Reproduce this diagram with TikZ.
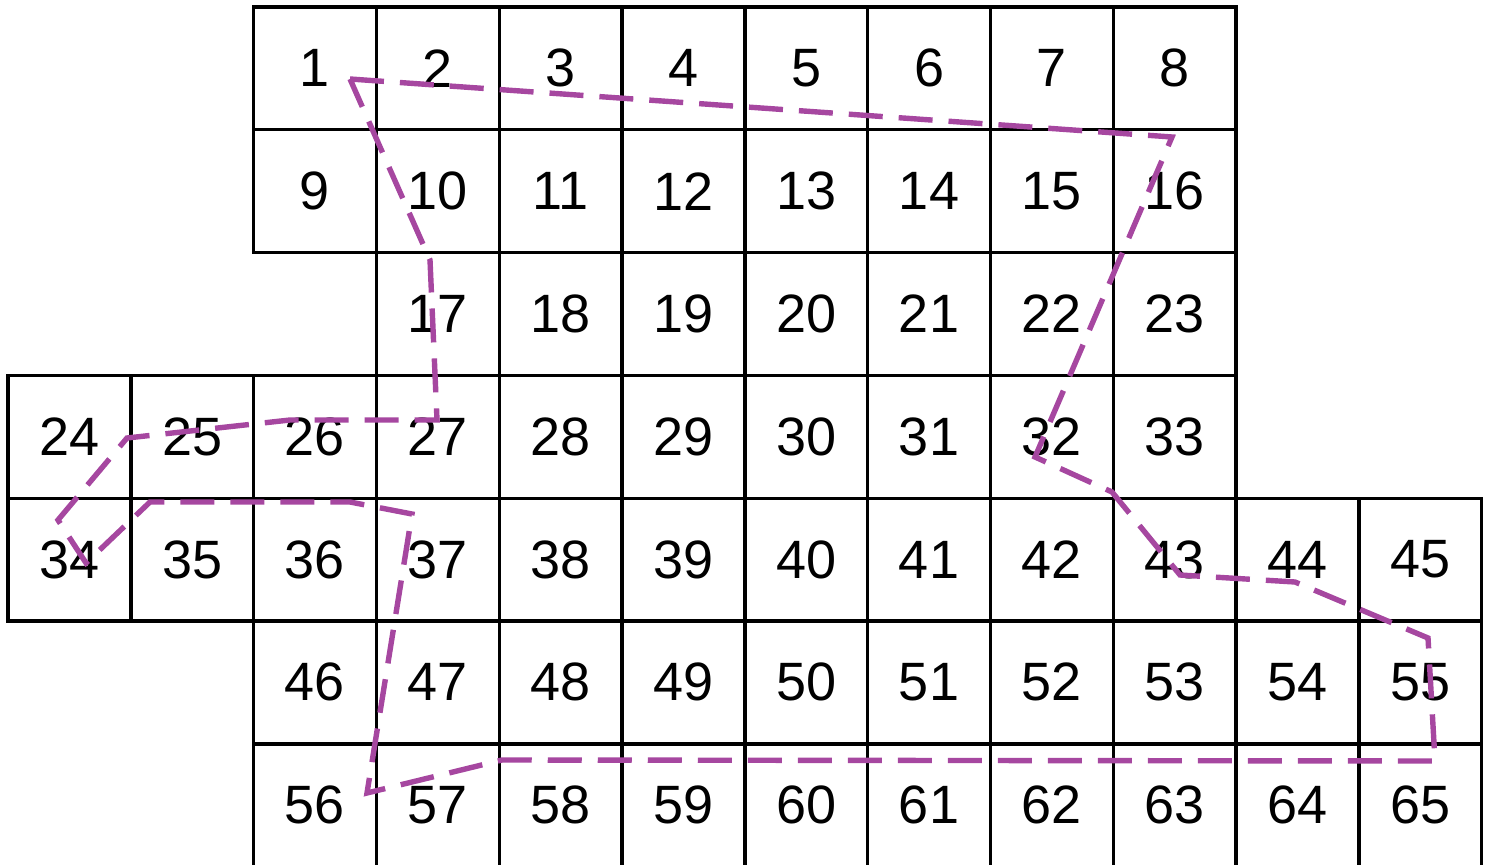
\documentclass[tikz,border=0pt]{standalone}
\usepackage{fontspec}
\setmainfont{Liberation Sans}
\definecolor{pathpurple}{RGB}{166,71,160}
\begin{document}
\begin{tikzpicture}[x=0.5pt,y=-0.5pt,
  cell/.style={draw=black,line width=1.7pt,minimum width=61.4pt,minimum height=61.4pt,
    inner sep=0pt,font=\fontsize{27}{30}\selectfont},
  route/.style={draw=pathpurple,line width=2.7pt,dash pattern=on 17pt off 8pt,line join=miter}]
\useasboundingbox (0,0) rectangle (1491,865);
\foreach \r/\cs/\ns/\cnt in {0/2/1/8, 1/2/9/8, 2/3/17/7, 3/0/24/10, 4/0/34/12, 5/2/46/10, 6/2/56/10} {
  \foreach \i in {1,...,\cnt} {
    \pgfmathtruncatemacro\num{\ns+\i-1}
    \node[cell] (c\num) at ({8+122.8*(\cs+\i-0.5)},{7+122.8*(\r+0.5)}) {\num};
  }
}
\draw[route] (350,79) -- (1172,137) -- (1035,457) -- (1112,492) -- (1180,575)
  -- (1295,582) -- (1428,638) -- (1435,761) -- (502,760) -- (367,793)
  -- (412,514) -- (350,502) -- (150,502) -- (86,563) -- (58,520)
  -- (127,438) -- (290,420) -- (437,420) -- (430,260) -- cycle;
\end{tikzpicture}
\end{document}
